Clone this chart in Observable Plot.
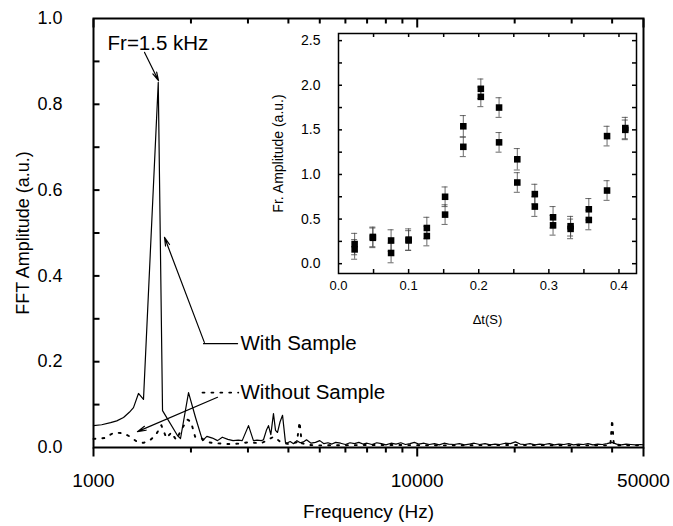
<!DOCTYPE html>
<html><head><meta charset="utf-8">
<script src="https://cdn.jsdelivr.net/npm/d3@7"></script>
<script src="https://cdn.jsdelivr.net/npm/@observablehq/plot@0.6"></script>
<style>
body{margin:0;background:#fff;}
#wrap{position:relative;width:673px;height:526px;font-family:"Liberation Sans",Arial,sans-serif;}
#inset{position:absolute;left:262px;top:22px;}
</style></head><body><div id="wrap"><div id="main"></div><div id="inset"></div></div>
<script>
// ---- main spectrum: with sample (solid) ----
const freqWith = [1000,1060,1129,1180,1238,1290,1329,1377,1427,1585,1634,1817,1857,1966,2066,2172,2240,2330,2416,2500,2600,2700,2800,2880,3012,3119,3200,3300,3350,3420,3472,3530,3597,3650,3702,3770,3837,3917,
3950,4050,4150,4250,4350,4450,4550,4700,4850,5000,5150,5300,5450,5600,5800,6000,6200,6400,6600,6800,7000,7250,7500,7750,8000,8300,8600,8900,9200,9500,9800,10100,10500,10900,11300,11700,12100,12500,13000,13500,14000,14500,15000,15600,16200,16800,17400,18000,18700,19400,20100,20800,21500,22300,23100,23900,24700,25600,26500,27400,28400,29400,30400,31500,32600,33700,34900,36100,37300,38600,39900,41300,42700,44200,45700,47300,48900,50000];
const ampWith = [0.051,0.053,0.058,0.062,0.070,0.082,0.093,0.126,0.112,0.851,0.086,0.028,0.021,0.128,0.070,0.016,0.026,0.022,0.016,0.024,0.019,0.016,0.017,0.016,0.051,0.016,0.017,0.016,0.018,0.040,0.051,0.030,0.079,0.040,0.035,0.060,0.075,0.012,
0.010,0.014,0.009,0.016,0.011,0.013,0.018,0.010,0.012,0.016,0.009,0.011,0.008,0.012,0.010,0.007,0.011,0.009,0.012,0.008,0.010,0.007,0.011,0.009,0.006,0.010,0.008,0.011,0.007,0.009,0.012,0.008,0.010,0.007,0.009,0.006,0.010,0.008,0.007,0.009,0.006,0.008,0.010,0.007,0.009,0.006,0.008,0.007,0.010,0.009,0.013,0.008,0.007,0.009,0.006,0.008,0.007,0.009,0.006,0.008,0.007,0.009,0.006,0.008,0.007,0.009,0.006,0.008,0.007,0.009,0.012,0.008,0.006,0.008,0.007,0.006,0.007,0.006];
// ---- main spectrum: without sample (dotted) ----
const freqWithout = [1000,1080,1160,1240,1300,1370,1430,1500,1560,1620,1680,1740,1800,1880,1950,2000,2060,2150,2250,2400,2600,2800,3000,3300,3600,3800,4000,4250,4330,4400,4600,5000,8000,12000,20000,30000,39500,40000,40500,50000];
const ampWithout = [0.020,0.022,0.035,0.033,0.025,0.012,0.011,0.018,0.030,0.052,0.022,0.035,0.018,0.045,0.065,0.060,0.025,0.022,0.012,0.010,0.008,0.009,0.012,0.010,0.025,0.012,0.008,0.012,0.060,0.010,0.006,0.005,0.006,0.005,0.006,0.005,0.005,0.065,0.005,0.005];
// ---- main axes ----
const xTickLabels = [1000, 10000, 50000];
const xMinorTicks = [2000,3000,4000,5000,6000,7000,8000,9000,20000,30000,40000];
const yTickLabels = [0, 0.2, 0.4, 0.6, 0.8, 1.0];
const yTickMarks = [0.1,0.2,0.3,0.4,0.5,0.6,0.7,0.8,0.9];
// ---- annotations ----
const noteText = ["Fr=1.5 kHz", "With Sample", "Without Sample"];
const noteFreq = [1105, 2845, 2845];
const noteAmp = [0.942, 0.242, 0.128];
const arrowFreq1 = [1438, 2200, 2416];
const arrowAmp1 = [0.921, 0.245, 0.117];
const arrowFreq2 = [1588, 1657, 1367];
const arrowAmp2 = [0.855, 0.49, 0.037];
const keyWithFreq = [2187, 2786];
const keyWithAmp = [0.242, 0.242];
const keyWithoutFreq = [2172, 2800];
const keyWithoutAmp = [0.128, 0.128];
// ---- inset ----
const dt = [0.023,0.049,0.075,0.100,0.126,0.152,0.178,0.203,0.229,0.255,0.280,0.306,0.331,0.357,0.383,0.409];
const ampA = [0.22,0.30,0.26,0.27,0.40,0.75,1.54,1.96,1.75,1.17,0.78,0.52,0.42,0.61,1.43,1.52];
const ampB = [0.16,0.29,0.12,0.26,0.31,0.55,1.31,1.87,1.36,0.91,0.64,0.43,0.39,0.49,0.82,1.50];
const errA = [0.12,0.11,0.12,0.12,0.12,0.11,0.12,0.11,0.11,0.12,0.11,0.12,0.11,0.12,0.11,0.12];
const errB = [0.11,0.11,0.11,0.11,0.11,0.11,0.11,0.11,0.11,0.11,0.11,0.11,0.11,0.11,0.11,0.11];
const insetXLabels = [0, 0.1, 0.2, 0.3, 0.4];
const insetXTicks = [0.05,0.1,0.15,0.2,0.25,0.3,0.35,0.4];
const insetYLabels = [0, 0.5, 1.0, 1.5, 2.0, 2.5];
const insetYTicks = [0,0.25,0.5,0.75,1.0,1.25,1.5,1.75,2.0,2.25,2.5];

const font = '"Liberation Sans", Arial, sans-serif';
const withRows = freqWith.map((f, i) => ({f, a: ampWith[i]}));
const withoutRows = freqWithout.map((f, i) => ({f, a: ampWithout[i]}));
const notes = noteText.map((t, i) => ({t, f: noteFreq[i], a: noteAmp[i]}));
const arrows = arrowFreq1.map((f, i) => ({f1: f, a1: arrowAmp1[i], f2: arrowFreq2[i], a2: arrowAmp2[i]}));
const keyWith = keyWithFreq.map((f, i) => ({f, a: keyWithAmp[i]}));
const keyWithout = keyWithoutFreq.map((f, i) => ({f, a: keyWithoutAmp[i]}));
const dotStyle = {stroke: "black", strokeWidth: 1.9, strokeDasharray: "1.9,7"};

// ---- main layout ----
const W = 673, H = 526, mL = 93, mR = 30, mT = 18, mB = 79;
const [x0, x1] = [1000, 50000];
const [y0, y1] = [0, 1];
const yPx = px => px * (y1 - y0) / (H - mT - mB);          // pixel length -> data units
const xFac = px => Math.pow(x1 / x0, px / (W - mL - mR));  // pixel length -> log factor
const xMinorRows = xMinorTicks.map(v => ({v}));
const xMajorRows = xTickLabels.map(v => ({v}));
const yTickRows = yTickMarks.map(v => ({v}));
const tk = {stroke: "black", strokeWidth: 2};

const main = Plot.plot({
  width: W, height: H,
  marginLeft: mL, marginRight: mR, marginTop: mT, marginBottom: mB,
  style: {fontFamily: font, fontSize: "18px", color: "black", background: "white"},
  x: {type: "log", domain: [x0, x1], label: null},
  y: {domain: [y0, y1], label: null},
  marks: [
    Plot.line(withoutRows, {x: "f", y: "a", ...dotStyle}),
    Plot.line(withRows, {x: "f", y: "a", stroke: "black", strokeWidth: 1.2}),
    Plot.line(keyWithout, {x: "f", y: "a", ...dotStyle}),
    Plot.line(keyWith, {x: "f", y: "a", stroke: "black", strokeWidth: 1.2}),
    Plot.arrow(arrows, {x1: "f1", y1: "a1", x2: "f2", y2: "a2", stroke: "black", strokeWidth: 1.2, headLength: 11, headAngle: 28}),
    Plot.text(notes, {x: "f", y: "a", text: "t", textAnchor: "start", fontSize: 20.5, fill: "black"}),
    // bottom ticks outward, top ticks inward, left ticks inward
    Plot.link(xMinorRows, {x1: "v", x2: "v", y1: d => y0, y2: d => y0 - yPx(5), ...tk}),
    Plot.link(xMajorRows, {x1: "v", x2: "v", y1: d => y0, y2: d => y0 - yPx(9), ...tk}),
    Plot.link(xMinorRows, {x1: "v", x2: "v", y1: d => y1, y2: d => y1 - yPx(5), ...tk}),
    Plot.link(xMajorRows, {x1: "v", x2: "v", y1: d => y1, y2: d => y1 - yPx(9), ...tk}),
    Plot.link(yTickRows, {y1: "v", y2: "v", x1: d => x0, x2: d => x0 * xFac(6), ...tk}),
    Plot.frame({strokeWidth: 2}),
    Plot.axisX({ticks: xTickLabels, tickSize: 0, tickPadding: 26, tickFormat: d3.format("d"),
      label: "Frequency (Hz)", labelAnchor: "center", labelOffset: 70, labelArrow: "none", fontSize: 19}),
    Plot.axisY({ticks: yTickLabels, tickSize: 0, tickPadding: 31, tickFormat: d3.format(".1f"),
      label: "FFT Amplitude (a.u.)", labelAnchor: "center", labelOffset: 77, labelArrow: "none"})
  ]
});
document.getElementById("main").append(main);

const insetRows = dt.flatMap((t, i) => [
  {t, a: ampA[i], e: errA[i]},
  {t, a: ampB[i], e: errB[i]}
]);
// ---- inset layout ----
const iW = 398, iH = 312, imL = 76, imR = 24, imT = 11, imB = 61;
const [ix0, ix1] = [0, 0.425];
const [iy0, iy1] = [-0.11, 2.58];
const iyPx = px => px * (iy1 - iy0) / (iH - imT - imB);
const ixPx = px => px * (ix1 - ix0) / (iW - imL - imR);
const bar = {stroke: "#444", strokeWidth: 0.8};
const itk = {stroke: "black", strokeWidth: 1.5};
const ixRows = insetXTicks.map(v => ({v}));
const iyRows = insetYTicks.map(v => ({v}));

const inset = Plot.plot({
  width: iW, height: iH,
  marginLeft: imL, marginRight: imR, marginTop: imT, marginBottom: imB,
  style: {fontFamily: font, fontSize: "13px", color: "black", background: "none", overflow: "visible"},
  x: {domain: [ix0, ix1], label: null},
  y: {domain: [iy0, iy1], label: null},
  marks: [
    Plot.ruleX(insetRows, {x: "t", y1: d => d.a - d.e, y2: d => d.a + d.e, ...bar}),
    Plot.ruleY(insetRows, {y: d => d.a - d.e, x1: d => d.t - ixPx(3), x2: d => d.t + ixPx(3), ...bar}),
    Plot.ruleY(insetRows, {y: d => d.a + d.e, x1: d => d.t - ixPx(3), x2: d => d.t + ixPx(3), ...bar}),
    Plot.dot(insetRows, {x: "t", y: "a", symbol: "square", r: 3.7, fill: "black", stroke: "none"}),
    // all ticks inward
    Plot.ruleX(ixRows, {x: "v", y1: d => iy0, y2: d => iy0 + iyPx(4), ...itk}),
    Plot.ruleX(ixRows, {x: "v", y1: d => iy1, y2: d => iy1 - iyPx(4), ...itk}),
    Plot.ruleY(iyRows, {y: "v", x1: d => ix0, x2: d => ix0 + ixPx(4), ...itk}),
    Plot.ruleY(iyRows, {y: "v", x1: d => ix1, x2: d => ix1 - ixPx(4), ...itk}),
    Plot.frame({strokeWidth: 1.5}),
    Plot.axisX({ticks: insetXLabels, tickSize: 0, tickPadding: 7, tickFormat: d3.format(".1f"),
      label: "Δt(S)", labelAnchor: "center", labelOffset: 50, labelArrow: "none"}),
    Plot.axisY({ticks: insetYLabels, tickSize: 0, tickPadding: 18, tickFormat: d3.format(".1f"),
      label: "Fr. Amplitude (a.u.)", labelAnchor: "center", labelOffset: 65, labelArrow: "none", fontSize: 14})
  ]
});
document.getElementById("inset").append(inset);
</script></body></html>
